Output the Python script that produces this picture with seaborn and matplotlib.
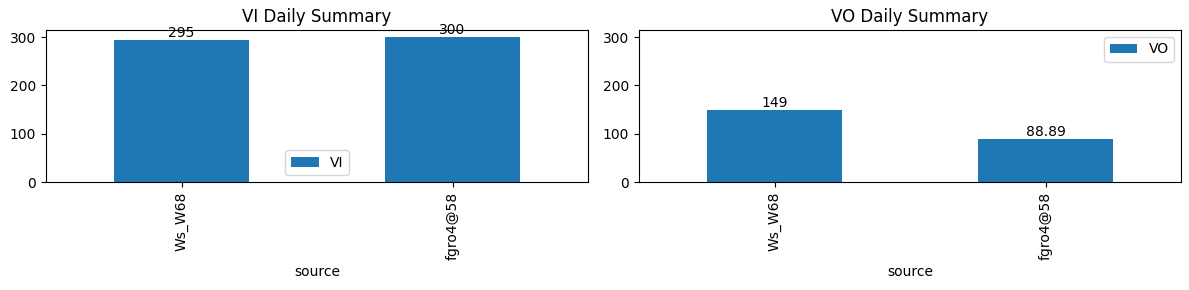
import matplotlib
matplotlib.use("Agg")
import matplotlib.pyplot as plt
import seaborn as sns
import pandas as pd
from matplotlib.patches import Patch

sources = ["Ws_W68", "fgro4@58"]
vi_values = [295, 300]
vo_values = [149, 88.89]

color = "#1f77b4"

fig, axes = plt.subplots(1, 2, figsize=(11.89, 2.9), dpi=100, sharey=True)

for ax, name, vals, loc in [(axes[0], "VI", vi_values, "lower center"),
                            (axes[1], "VO", vo_values, "upper right")]:
    df = pd.DataFrame({"source": sources, name: vals})
    sns.barplot(data=df, x="source", y=name, ax=ax, color=color, saturation=1,
                width=0.5, errorbar=None)
    for c in ax.containers:
        ax.bar_label(c, fmt="%g")
    ax.set_title(f"{name} Daily Summary")
    ax.set_xlim(-0.5, 1.5)
    ax.set_ylim(0, 315)
    ax.set_ylabel("")
    ax.set_xlabel("source")
    ax.tick_params(axis="x", labelrotation=90)
    ax.yaxis.set_tick_params(labelleft=True)
    ax.legend(handles=[Patch(facecolor=color, label=name)], loc=loc)

fig.subplots_adjust(left=0.0387, right=0.9933, top=0.8966, bottom=0.3724, wspace=0.094)
fig.savefig("out.png", dpi=100)
